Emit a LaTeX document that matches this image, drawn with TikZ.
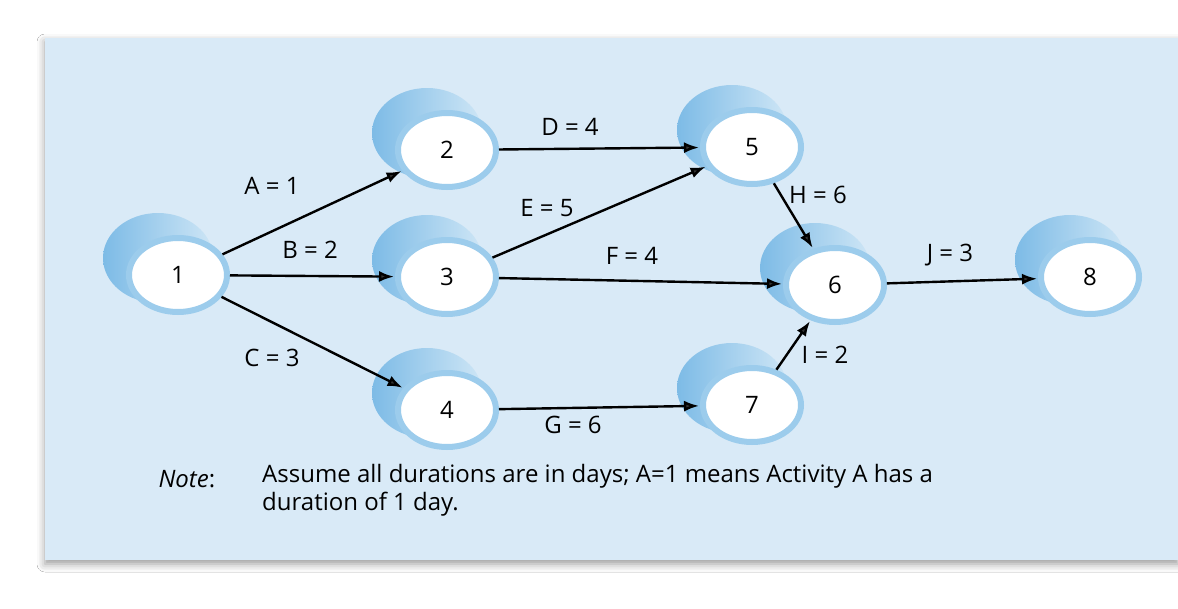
\documentclass[tikz,border=0pt]{standalone}
\usepackage{fontspec}
\setmainfont{Open Sans}
\usetikzlibrary{shadows.blur,arrows.meta,shapes.geometric}
\definecolor{panel}{HTML}{D9EAF7}
\definecolor{ring}{HTML}{9CCCEC}
\definecolor{backc}{HTML}{7DBBE6}
\begin{document}
\begin{tikzpicture}[x=1pt,y=-1pt,
  ev/.style={ellipse,minimum width=98pt,minimum height=74pt,fill=white,draw=ring,line width=6pt,font=\fontsize{24}{28}\selectfont,inner sep=0pt},
  act/.style={-{Latex[length=15pt,width=11pt]},line width=2.4pt,shorten >=1pt},
  lab/.style={font=\fontsize{24}{28}\selectfont}]
\useasboundingbox (0,0) rectangle (1178,608);
\fill[white] (0,0) rectangle (1178,608);
\fill[panel,blur shadow={shadow xshift=0pt,shadow yshift=-4pt,shadow blur radius=8pt}] (45,38) rectangle (1178,560);
\foreach \n/\x/\y in {1/178/275,2/447/150,3/447/277,4/447/410,5/752/147,6/835/285,7/752/405,8/1090/277}{
  \shade[left color=backc,right color=ring!50] (\x-20,\y-17) ellipse [x radius=55, y radius=45];
  \node[ev] (n\n) at (\x,\y) {\n};
}
\draw[act] (n1) -- (n2);
\draw[act] (n1) -- (n3);
\draw[act] (n1) -- (n4);
\draw[act] (n2) -- (n5);
\draw[act] (n3) -- (n5);
\draw[act] (n3) -- (n6);
\draw[act] (n4) -- (n7);
\draw[act] (n5) -- (n6);
\draw[act] (n7) -- (n6);
\draw[act] (n6) -- (n8);
\node[lab] (la) at (272,186) {A = 1};
\node[lab] (lb) at (310,250) {B = 2};
\node[lab] (lc) at (272,358) {C = 3};
\node[lab] (ld) at (570,127) {D = 4};
\node[lab] (le) at (547,208) {E = 5};
\node[lab] (lf) at (632,256) {F = 4};
\node[lab] (lg) at (573,425) {G = 6};
\node[lab] (lh) at (818,195) {H = 6};
\node[lab] (li) at (825,355) {I = 2};
\node[lab] (lj) at (950,255) {J = 3};
\node[lab,anchor=west] (nt) at (155,479) {\textit{Note}:};
\node[lab,anchor=north west,align=left,inner sep=0pt] (ntx) at (262,464) {Assume all durations are in days; A=1 means Activity A has a\\duration of 1 day.};
\end{tikzpicture}
\end{document}
